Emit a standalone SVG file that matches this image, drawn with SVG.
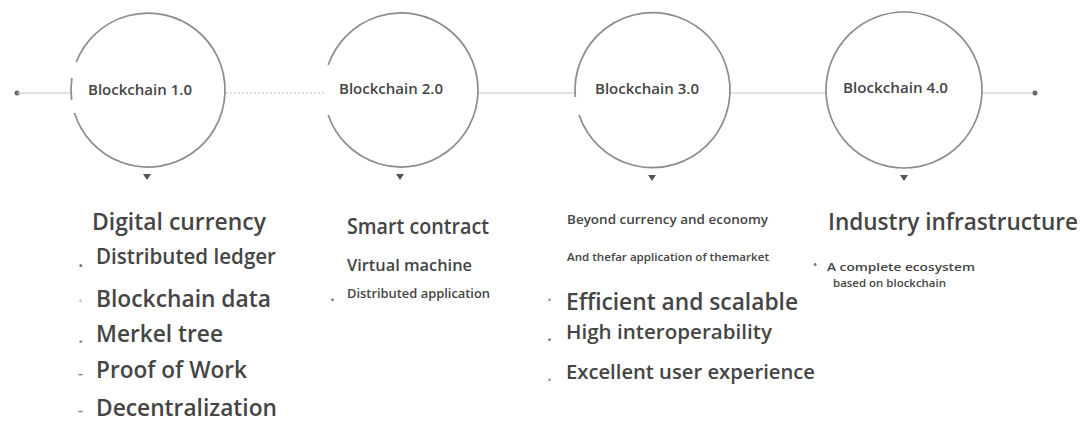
<svg xmlns="http://www.w3.org/2000/svg" width="1085" height="421" viewBox="0 0 1085 421">
<defs>
<style>
.ring{fill:none;stroke:#8c8c8c;stroke-width:1.7}
.line{stroke:#c4c4c4;stroke-width:1.2;fill:none}
.dotted{stroke-dasharray:2 2}
.end{fill:#666}
.tri{fill:#555}
.lbl{font-family:"Open Sans","Noto Sans","DejaVu Sans",sans-serif;fill:#454545;font-weight:600}
.bul{font-family:"Open Sans","Noto Sans",sans-serif;fill:#777;font-weight:600}
</style>
</defs>
<rect width="1085" height="421" fill="#ffffff"/>
<g id="connectors">
<circle class="end" cx="17" cy="93" r="2.5"/>
<line class="line" x1="17" y1="93" x2="71" y2="93"/>
<line class="line dotted" x1="226" y1="93" x2="324" y2="93"/>
<line class="line" x1="478" y1="93" x2="575" y2="93"/>
<line class="line" x1="730" y1="93" x2="826" y2="93"/>
<line class="line" x1="982" y1="93" x2="1035" y2="93"/>
<circle class="end" cx="1035" cy="93" r="2.5"/>
</g>
<g id="node-1">
<path class="ring" d="M76.3 62 A77 77 0 1 1 74.5 113"/>
<path class="ring" d="M71.9 78 A77 77 0 0 0 71.65 100"/>
<text class="lbl" x="88" y="95" font-size="14" textLength="104" lengthAdjust="spacingAndGlyphs">Blockchain 1.0</text>
<polygon class="tri" points="143,174 151,174 147,180"/>
</g>
<g id="node-2">
<path class="ring" d="M328.2 65 A77 77 0 1 1 328.2 115"/>
<text class="lbl" x="339" y="94" font-size="14" textLength="104" lengthAdjust="spacingAndGlyphs">Blockchain 2.0</text>
<polygon class="tri" points="396,174 404,174 400,180"/>
</g>
<g id="node-3">
<path class="ring" d="M575.3 97 A77.5 77.5 0 1 1 579.1 115"/>
<text class="lbl" x="595" y="94" font-size="14" textLength="104" lengthAdjust="spacingAndGlyphs">Blockchain 3.0</text>
<polygon class="tri" points="648,175 656,175 652,181"/>
</g>
<g id="node-4">
<circle class="ring" cx="904" cy="90" r="78"/>
<text class="lbl" x="843" y="93" font-size="14" textLength="105" lengthAdjust="spacingAndGlyphs">Blockchain 4.0</text>
<polygon class="tri" points="900,175 908,175 904,181"/>
</g>
<g id="list-1">
<text class="lbl" x="92" y="230" font-size="23" textLength="174" lengthAdjust="spacingAndGlyphs">Digital currency</text>
<text class="bul" x="78" y="267" font-size="20">.</text>
<text class="lbl" x="96" y="264" font-size="21" textLength="180" lengthAdjust="spacingAndGlyphs">Distributed ledger</text>
<text class="bul" x="78" y="307" font-size="18" style="fill:#c4c4c4">·</text>
<text class="lbl" x="96" y="307" font-size="23" textLength="175" lengthAdjust="spacingAndGlyphs">Blockchain data</text>
<text class="bul" x="78" y="343" font-size="20" style="fill:#999">.</text>
<text class="lbl" x="96" y="342" font-size="23" textLength="127" lengthAdjust="spacingAndGlyphs">Merkel tree</text>
<text class="bul" x="78" y="378" font-size="15">-</text>
<text class="lbl" x="96" y="378" font-size="23" textLength="151" lengthAdjust="spacingAndGlyphs">Proof of Work</text>
<text class="bul" x="78" y="415" font-size="15">-</text>
<text class="lbl" x="96" y="416" font-size="23" textLength="181" lengthAdjust="spacingAndGlyphs">Decentralization</text>
</g>
<g id="list-2">
<text class="lbl" x="347" y="234" font-size="21" textLength="142" lengthAdjust="spacingAndGlyphs">Smart contract</text>
<text class="lbl" x="347" y="271" font-size="17" textLength="125" lengthAdjust="spacingAndGlyphs">Virtual machine</text>
<text class="bul" x="330" y="301" font-size="18">.</text>
<text class="lbl" x="347" y="298" font-size="13" textLength="143" lengthAdjust="spacingAndGlyphs">Distributed application</text>
</g>
<g id="list-3">
<text class="lbl" x="567" y="224" font-size="12.5" textLength="201" lengthAdjust="spacingAndGlyphs">Beyond currency and economy</text>
<text class="lbl" x="567" y="261" font-size="11" textLength="202" lengthAdjust="spacingAndGlyphs">And thefar application of themarket</text>
<text class="bul" x="547" y="306" font-size="18" style="fill:#999">·</text>
<text class="lbl" x="566" y="310" font-size="23" textLength="232" lengthAdjust="spacingAndGlyphs">Efficient and scalable</text>
<text class="bul" x="547" y="341" font-size="18">.</text>
<text class="lbl" x="566" y="339" font-size="19" textLength="206" lengthAdjust="spacingAndGlyphs">High interoperability</text>
<text class="bul" x="547" y="381" font-size="18" style="fill:#999">.</text>
<text class="lbl" x="566" y="379" font-size="19" textLength="249" lengthAdjust="spacingAndGlyphs">Excellent user experience</text>
</g>
<g id="list-4">
<text class="lbl" x="828" y="230" font-size="23" textLength="250" lengthAdjust="spacingAndGlyphs">Industry infrastructure</text>
<text class="bul" x="813" y="269" font-size="11">•</text>
<text class="lbl" x="827" y="271" font-size="11.5" textLength="148" lengthAdjust="spacingAndGlyphs">A complete ecosystem</text>
<text class="lbl" x="833" y="287" font-size="11.5" textLength="113" lengthAdjust="spacingAndGlyphs">based on blockchain</text>
</g>
</svg>
